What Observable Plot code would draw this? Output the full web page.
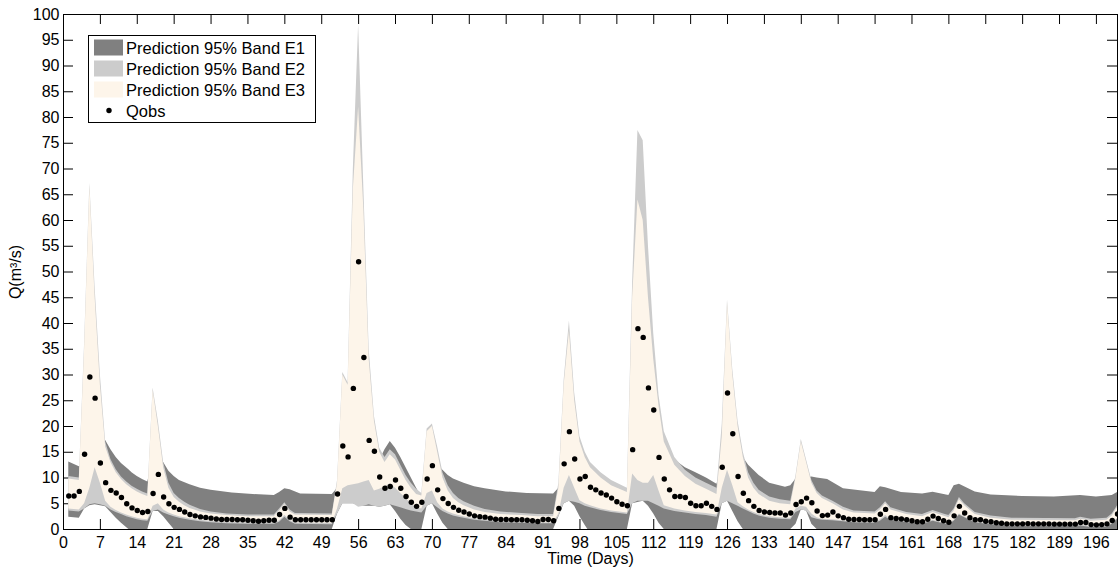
<!DOCTYPE html>
<html><head><meta charset="utf-8">
<script src="https://cdn.jsdelivr.net/npm/d3@7"></script>
<script src="https://cdn.jsdelivr.net/npm/@observablehq/plot@0.6"></script>
<style>
body{margin:0;background:#fff;}
#wrap{position:relative;width:1118px;height:567px;font-family:"Liberation Sans",Arial,Helvetica,sans-serif;}
#legend{position:absolute;left:0;top:0;}
</style></head><body><div id="wrap"></div>
<script>
// Observed discharge, days 1..200
const qobs = [6.5,6.5,7.4,14.6,29.6,25.5,12.9,9.1,7.6,7.1,6.2,5.0,4.2,3.7,3.3,3.5,7.0,10.7,6.3,5.0,
4.3,3.9,3.4,2.9,2.65,2.45,2.35,2.2,2.05,1.95,1.95,1.95,1.9,1.9,1.8,1.7,1.6,1.7,1.8,1.8,
2.9,4.1,2.4,1.9,1.9,1.9,1.9,1.9,1.9,1.9,1.9,6.9,16.2,14.1,27.4,52.0,33.4,17.3,15.2,10.2,
8.0,8.35,9.6,8.0,6.4,5.3,4.5,5.3,9.8,12.4,7.7,6.0,5.05,4.3,3.75,3.4,3.0,2.65,2.5,2.4,
2.2,2.0,1.95,1.95,1.9,1.9,1.9,1.8,1.7,1.55,1.95,1.95,1.7,4.1,12.75,19.0,13.7,9.8,10.3,8.2,
7.7,7.1,6.7,6.1,5.4,4.9,4.6,15.5,39.0,37.3,27.5,23.2,14.0,9.8,7.7,6.4,6.4,6.2,5.1,4.6,
4.6,5.1,4.5,3.9,12.1,26.5,18.6,10.3,7.05,5.6,4.5,3.7,3.4,3.3,3.2,3.2,2.8,3.2,4.85,5.4,
6.1,5.2,3.6,2.7,2.8,3.4,2.65,2.3,2.0,1.95,1.95,1.9,1.9,1.9,2.95,3.9,2.3,2.15,2.05,1.9,
1.7,1.5,1.5,2.0,2.6,2.15,1.7,1.4,2.65,4.5,3.2,2.3,1.9,1.9,1.6,1.5,1.3,1.2,1.1,1.1,
1.1,1.1,1.15,1.1,1.1,1.1,1.1,1.05,1.05,1.05,1.05,1.05,1.35,1.35,0.95,0.9,0.95,1.1,1.75,3.0];

// Band E1 [day, lower, upper]
const bandE1 = [[1,2.4,13.1],[3,2.2,12.2],[4,4,13],[5,4.6,15],[6,4.8,16],[7,4.6,17],[8,4.4,17.3],[9,3.3,15.5],[10,2.2,14],[11,1.2,12.8],[12.4,0,11.6],[13,0,11],[14,0,10.3],[15,0,9.7],[16,0,9.2],
[17,3.5,14],[18,3.5,15],[19,2.5,13],[20,1.2,11.3],[21,0,10.3],[22,0,9.5],[24,0,8.7],[26,0,8.0],[28,0,7.6],[32,0,7.1],[36,0,6.8],[40,0,6.6],[41,0,7.2],[42,0,7.9],[43,0,7.7],[45,0,6.9],[51,0,6.8],
[52,3,8],[53,5,10],[55,5,12],[57,4.5,12],[59,4.5,12.5],[60,4.3,13.4],[61,4.5,15.5],[62,4.8,17.1],[63,3.5,15.8],[64,2,14],[65,0.8,12],[66,0,10],[67,0,8],[68,0,6.2],
[69,4.5,8],[70,5,12],[71,3,12.5],[72,1.2,11.5],[73,0,10.5],[74,0,9.8],[76,0,9],[78,0,8.3],[80,0,7.9],[84,0,7.3],[88,0,7.0],[93,0,6.9],
[94,2.5,8],[95,5,12],[96,5.5,13],[97,4.5,13.5],[98,2.5,14],[99,0.8,12.5],[99.5,0,12],[100,0,11],[102,0,10],[104,0,9],[107,0,7],
[108,5,12],[110,5.5,14],[111,4.5,15],[112,3,16],[113,1.2,17],[114,0,16],[116,0,13.5],[118,0,12],[120,0,11],[122,0,10],[124,0,8.8],
[125,5,12],[126,5.5,14],[127,3.5,15],[128,1.5,15.5],[129,0,14],[130,0,12.5],[132,0,10.5],[134,0,9],[137,0,8.2],[138,0,8.5],
[139,1,9.8],[140,3.8,10],[141,3.6,10],[142,1,10.2],[143,0,10],[145,0,9.7],[148,0,7.9],[154,0,7.2],[155,0,8.3],[156,0,8.1],[159,0,7.2],[163,0,6.9],[165,0,7.25],[168,0,6.6],[169,0,8.5],[170,0,8.8],[173,0,7.3],[176,0,6.7],[182,0,6.4],[188,0,6.3],[193,0,6.6],[196,0,6.3],[199,0,6.6],[200,0,7.2]];

// Band E2 [day, lower, upper]
const bandE2 = [[1,3.6,10.3],[3,3.4,10],[4,4,36],[5,4.8,67.2],[6,5,47],[7,4.8,30],[8,4.5,17],[9,3.8,13.6],[10,3.3,11.6],[11,2.9,10.2],[12,2.5,9.2],[13,2.2,8.4],[14,1.9,7.8],[15,1.7,7.3],[16,1.6,6.9],
[17,3.5,27.5],[18,3.8,21],[19,3.2,13],[20,2.8,9],[21,2.5,7],[22,2.2,6],[23,2.0,5.3],[24,1.8,4.7],[26,1.5,3.9],[28,1.3,3.4],[31,1.1,3.0],[35,1.0,2.8],[40,1.0,2.8],[41,1.4,4],[42,2.4,5.2],[43,1.5,3.8],[44,1.0,3.1],[51,0.9,3.0],
[52,3,9.5],[53,5,30.5],[54,5,28.5],[55,5,70],[56,4.3,98],[57,4.5,66],[58,4.8,35],[59,4.5,22],[60,4.3,15.8],[61,4.5,14],[62,4.8,15.5],[63,4.5,14.5],[64,4.2,12.5],[65,3.9,10.5],[66,3.6,9],[67,3.4,7.8],[68,3.2,7],
[69,4.5,19.5],[70,5,20.5],[71,4.2,16],[72,3.5,11],[73,3.0,8.5],[74,2.6,7],[75,2.4,6],[76,2.2,5.4],[78,1.8,4.5],[80,1.6,3.9],[83,1.3,3.4],[87,1.2,3.1],[90,1.1,2.9],[93,1.1,2.9],
[94,2.5,9],[95,5,29],[96,5.5,40.5],[97,5.3,26.5],[98,5,18],[99,4.5,15],[100,4.2,13],[102,3.7,11],[104,3.3,9.5],[107,2.9,8],
[108,5,48],[109,5.5,77.5],[110,5.5,75.5],[111,5.5,55],[112,5,38],[113,4.5,26],[114,4,19],[116,3.5,14],[118,3.2,11.5],[120,2.9,10],[122,2.7,9],[124,2.4,8],
[125,5,20.5],[126,5.5,44.5],[127,5,31],[128,4.5,21],[129,4,15],[130,3.5,11],[131,3.0,9],[132,2.6,7.6],[134,2.2,6.3],[136,2.0,5.8],[138,1.9,5.5],
[139,3.3,10.5],[140,3.8,17.5],[141,3.6,13.5],[142,2.3,9.5],[143,2.0,7.5],[144,1.8,6.5],[146,1.7,5.5],[148,1.5,4.3],[150,1.3,3.6],[154,1.2,3.4],[155,1.6,4.2],[156,2.4,5.4],[157,1.8,4.2],[160,1.3,3.3],[163,1.0,2.9],[165,1.6,3.7],[167,1.1,3.0],[168,0.9,2.7],[169,1.6,4.0],[170,2.8,6.2],[171,2.3,5.0],[173,1.3,3.3],[176,0.9,2.6],[180,0.6,2.2],[192,0.6,2.1],[193,0.7,2.4],[195,0.4,2.0],[198,0.5,2.2],[199,1.0,3.0],[200,2.0,4.6]];

// Band E3 [day, lower, upper]
const bandE3 = [[1,4.0,9.8],[3,3.8,9.5],[4,5.0,35],[5,8.0,66.5],[6,12.0,45],[7,9.0,28],[8,5.5,16],[9,4.3,13],[10,3.7,11],[11,3.2,9.7],[12,2.8,8.7],[13,2.5,7.9],[14,2.2,7.3],[15,2.0,6.8],[16,1.9,6.4],
[17,4.5,27],[18,5.0,20],[19,3.8,12],[20,3.2,8],[21,2.8,6.2],[22,2.5,5.3],[23,2.3,4.6],[24,2.1,4.1],[26,1.8,3.4],[28,1.6,3.0],[31,1.4,2.7],[35,1.3,2.5],[40,1.3,2.5],[41,1.7,3.6],[42,2.7,4.8],[43,1.8,3.4],[44,1.3,2.8],[51,1.2,2.7],
[52,4.0,9],[53,7.9,30],[54,8.5,28],[55,8.7,66],[56,8.9,82],[57,9.2,62],[58,9.5,33],[59,7.5,21],[60,7.8,15],[61,8.3,13],[62,8.9,14.5],[63,8.0,13.5],[64,7.0,11.5],[65,6.0,9.5],[66,5.0,8],[67,4.2,6.8],[68,4.0,6.5],
[69,7.0,19],[70,7.5,20],[71,5.2,15],[72,4.0,10],[73,3.4,7.5],[74,3.0,6.0],[75,2.7,5.2],[76,2.5,4.6],[78,2.1,3.8],[80,1.9,3.3],[83,1.6,2.9],[87,1.5,2.7],[90,1.3,2.5],[93,1.3,2.5],
[94,3.0,8],[95,8.0,28],[96,10.5,38.5],[97,8.0,25],[98,5.6,17],[99,5.0,14],[100,4.6,12],[102,4.0,10],[104,3.6,8.5],[107,3.2,7.2],
[108,10.8,45],[109,9.5,64],[110,9.0,60],[111,9.0,45],[112,10.5,33],[113,7.5,24],[114,4.6,17],[116,4.0,12.5],[118,3.6,10.3],[120,3.3,8.8],[122,3.1,7.8],[124,2.8,6.8],
[125,8.0,18],[126,11.5,44],[127,8.5,30],[128,5.2,20],[129,4.4,14],[130,3.8,10],[131,3.3,8],[132,2.9,6.8],[134,2.5,5.5],[136,2.3,5],[138,2.2,4.8],
[139,4.0,10],[140,4.5,17],[141,4.3,13],[142,3.0,9],[143,2.3,7],[144,2.0,6],[146,1.9,5],[148,1.7,3.8],[150,1.5,3.2],[154,1.4,3.0],[155,1.9,3.8],[156,2.7,5],[157,2.0,3.8],[160,1.5,2.9],[163,1.2,2.5],[165,1.8,3.3],[167,1.3,2.6],[168,1.1,2.3],[169,1.8,3.6],[170,3.0,5.8],[171,2.5,4.6],[173,1.5,2.9],[176,1.1,2.2],[180,0.8,1.8],[192,0.8,1.7],[193,0.9,2.0],[195,0.6,1.6],[198,0.7,1.8],[199,1.2,2.6],[200,2.2,4.2]];

const xTicks = [0,7,14,21,28,35,42,49,56,63,70,77,84,91,98,105,112,119,126,133,140,147,154,161,168,175,182,189,196];
const yTicks = [0,5,10,15,20,25,30,35,40,45,50,55,60,65,70,75,80,85,90,95,100];
const legendLabels = ["Prediction 95% Band E1","Prediction 95% Band E2","Prediction 95% Band E3","Qobs"];
const colors = {E1:"#808080", E2:"#cccccc", E3:"#fdf5ea"};

const W = 1118, H = 567, mL = 63, mR = 1, mT = 14, mB = 38;
const iW = W - mL - mR, iH = H - mT - mB, tl = 10;
const font = "Liberation Sans, Arial, Helvetica, sans-serif";

const chart = Plot.plot({
  width: W, height: H,
  marginLeft: mL, marginRight: mR, marginTop: mT, marginBottom: mB,
  style: {fontFamily: font, fontSize: "16px", background: "#fff", color: "#000"},
  x: {domain: [0, 200]},
  y: {domain: [0, 100]},
  marks: [
    Plot.tickX(xTicks, {x: d => d, insetTop: iH - tl, stroke: "#000"}),
    Plot.tickX(xTicks, {x: d => d, insetBottom: iH - tl, stroke: "#000"}),
    Plot.tickY(yTicks, {y: d => d, insetRight: iW - tl, stroke: "#000"}),
    Plot.tickY(yTicks, {y: d => d, insetLeft: iW - tl, stroke: "#000"}),
    Plot.areaY(bandE1, {x: d => d[0], y1: d => d[1], y2: d => d[2], fill: colors.E1}),
    Plot.areaY(bandE2, {x: d => d[0], y1: d => d[1], y2: d => d[2], fill: colors.E2}),
    Plot.areaY(bandE3, {x: d => d[0], y1: d => d[1], y2: d => d[2], fill: colors.E3}),
    Plot.dot(qobs, {x: (d, i) => i + 1, y: d => d, r: 2.7, fill: "#000", stroke: "none"}),
    Plot.axisX({ticks: xTicks, tickSize: 0, tickPadding: 7, fontSize: 16, label: "Time (Days)", labelAnchor: "center", labelArrow: "none", labelOffset: 34}),
    Plot.axisY({ticks: yTicks, tickSize: 0, tickPadding: 4, fontSize: 16, label: "Q(m³/s)", labelAnchor: "center", labelArrow: "none", labelOffset: 54}),
    Plot.frame({stroke: "#000"})
  ]
});
const wrap = document.getElementById("wrap");
wrap.appendChild(chart);

// Legend overlay
const lg = d3.select(wrap).append("svg").attr("id", "legend").attr("width", W).attr("height", H)
  .style("font-family", font).style("font-size", "16.5px");
lg.append("rect").attr("x", 88.5).attr("y", 35.5).attr("width", 227).attr("height", 87).attr("fill", "#fff").attr("stroke", "#000");
const sw = [colors.E1, colors.E2, colors.E3];
legendLabels.forEach((t, i) => {
  const cy = 47.5 + i * 21;
  if (i < 3) lg.append("rect").attr("x", 94).attr("y", cy - 8).attr("width", 29).attr("height", 16).attr("fill", sw[i]);
  else lg.append("circle").attr("cx", 109).attr("cy", cy).attr("r", 2.7).attr("fill", "#000");
  lg.append("text").attr("x", 126).attr("y", cy + 6).text(t);
});
</script></body></html>
